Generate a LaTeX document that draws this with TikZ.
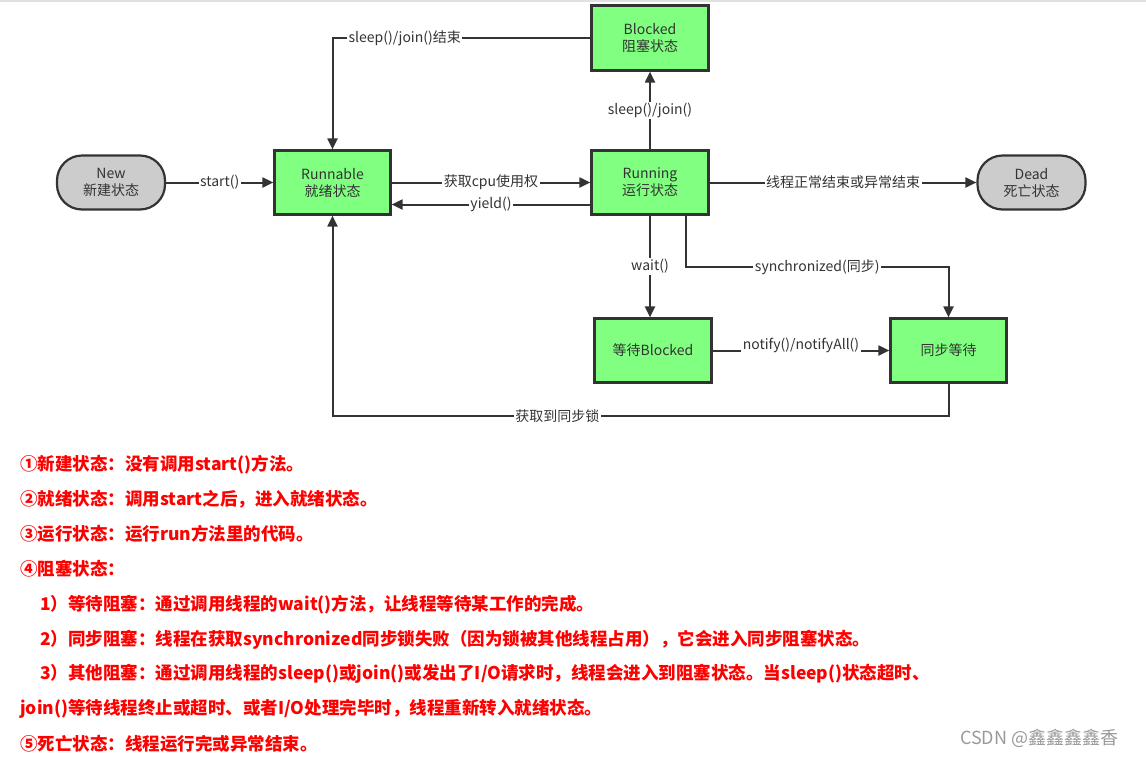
\documentclass[tikz,border=0pt]{standalone}
\usepackage{fontspec}
\setmainfont{Noto Sans CJK SC}
\usetikzlibrary{arrows.meta}
\definecolor{ln}{HTML}{333333}
\definecolor{gfill}{HTML}{80FF80}
\definecolor{grayfill}{HTML}{CCCCCC}
\definecolor{redtxt}{HTML}{FF0000}
\definecolor{wm}{HTML}{9A9A9A}
\begin{document}
\begin{tikzpicture}[x=1pt,y=-1pt,
  state/.style={draw=ln,line width=2.2pt,fill=gfill,minimum width=116pt,minimum height=64pt,
    align=center,text=ln,inner sep=0pt,font=\fontsize{14}{17}\selectfont},
  term/.style={draw=ln,line width=2.2pt,fill=grayfill,rounded corners=25pt,minimum width=108pt,
    minimum height=54pt,align=center,text=ln,inner sep=0pt,font=\fontsize{14}{17}\selectfont},
  conn/.style={draw=ln,line width=2pt,-{Triangle[length=11pt,width=10pt]}},
  lbl/.style={fill=white,text=ln,inner sep=1.5pt,font=\fontsize{14}{16}\selectfont},
  note/.style={anchor=west,text=redtxt,inner sep=0pt,font=\fontsize{17.5}{20}\selectfont\bfseries}
]
\useasboundingbox (0,0) rectangle (1146,756);
\fill[white] (0,0) rectangle (1146,756);
\draw[draw=black!12,line width=1.5pt] (0,0.75) -- (1146,0.75);

% states
\node[term] (new) at (111,182.5) {New\\新建状态};
\node[state] (runnable) at (332.5,182.5) {Runnable\\就绪状态};
\node[state,minimum width=117pt,minimum height=65pt] (blocked) at (650,38) {Blocked\\阻塞状态};
\node[state,minimum width=117pt] (running) at (650,182.5) {Running\\运行状态};
\node[term] (dead) at (1031.5,182.5) {Dead\\死亡状态};
\node[state,minimum width=117pt] (waitb) at (653,350.5) {等待Blocked};
\node[state] (syncw) at (948.5,350.5) {同步等待};

\coordinate (s1) at (686,267);
\coordinate (b1) at (948.5,416);

% connectors
\draw[conn] (new) -- node[lbl]{start()} (runnable);
\draw[conn] (runnable.east) -- node[lbl]{获取cpu使用权} (running.west);
\draw[conn] ([yshift=-22pt]running.west) -- node[lbl]{yield()} ([yshift=-22pt]runnable.east);
\draw[conn] (running) -- node[lbl]{sleep()/join()} (blocked);
\draw[conn] (blocked.west) -| node[lbl,pos=0.36]{sleep()/join()结束} (runnable.north);
\draw[conn] (running.east) -- node[lbl]{线程正常结束或异常结束} (dead.west);
\draw[conn] (running.south) -- node[lbl]{wait()} (running.south |- waitb.north);
\draw[conn] (running.south -| s1) -- (s1) -| node[lbl,pos=0.25]{synchronized(同步)} (syncw.north);
\draw[conn] (waitb.east) -- node[lbl,yshift=5pt]{notify()/notifyAll()} (syncw.west);
\draw[conn] (syncw.south) -- (b1) -- node[lbl,pos=0.635]{获取到同步锁} (b1 -| runnable.south) -- (runnable.south);

% notes
\node[note] (n1) at (20,465) {①新建状态：没有调用start()方法。};
\node[note] (n2) at (20,499) {②就绪状态：调用start之后，进入就绪状态。};
\node[note] (n3) at (20,534) {③运行状态：运行run方法里的代码。};
\node[note] (n4) at (20,569) {④阻塞状态：};
\node[note] (n5) at (40,605) {1）等待阻塞：通过调用线程的wait()方法，让线程等待某工作的完成。};
\node[note] (n6) at (40,640) {2）同步阻塞：线程在获取synchronized同步锁失败（因为锁被其他线程占用），它会进入同步阻塞状态。};
\node[note] (n7) at (40,674) {3）其他阻塞：通过调用线程的sleep()或join()或发出了I/O请求时，线程会进入到阻塞状态。当sleep()状态超时、};
\node[note] (n8) at (20,709) {join()等待线程终止或超时、或者I/O处理完毕时，线程重新转入就绪状态。};
\node[note] (n9) at (20,744) {⑤死亡状态：线程运行完或异常结束。};

\node[anchor=west,text=wm,inner sep=0pt,font=\fontsize{18}{20}\selectfont] (wmk) at (960,738) {CSDN @鑫鑫鑫鑫香};
\end{tikzpicture}
\end{document}
